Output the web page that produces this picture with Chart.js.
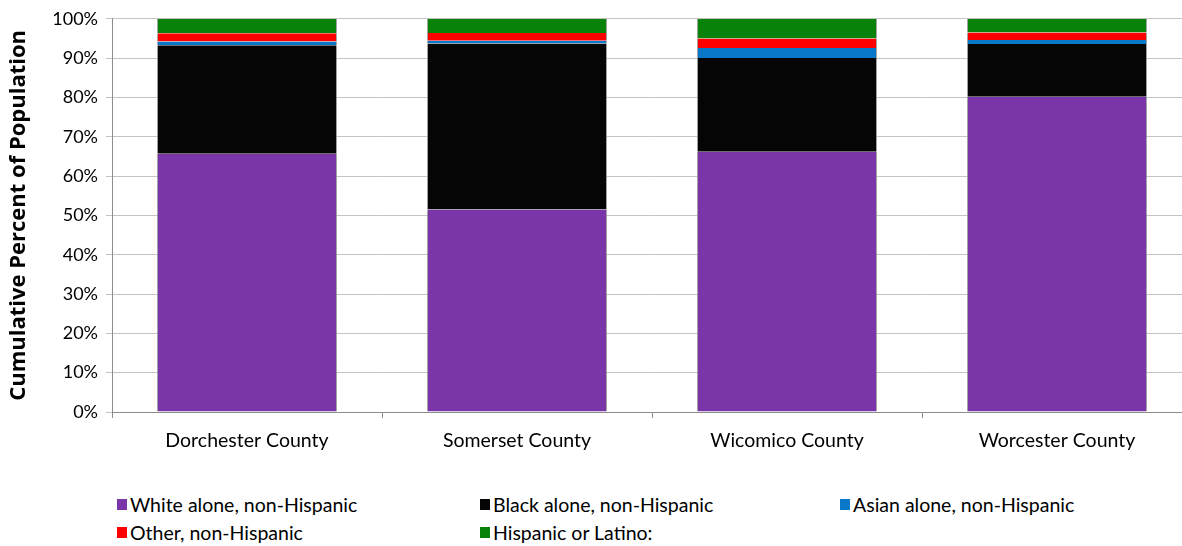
<!DOCTYPE html>
<html>
<head>
<meta charset="utf-8">
<script src="https://cdn.jsdelivr.net/npm/chart.js@4/dist/chart.umd.min.js"></script>
<style>
  body { margin: 0; background: #fff; font-family: Lato, "Open Sans", sans-serif; overflow: hidden; }
  #wrap { position: relative; width: 1194px; height: 470px; }
  #legend { position: absolute; left: 0; top: 493px; width: 1182px; font-size: 19.5px; color: #000; }
  .item { position: absolute; display: flex; align-items: center; white-space: nowrap; }
  .sw { width: 10px; height: 11px; margin-right: 3px; }
</style>
</head>
<body>
<div id="wrap"><canvas id="chart"></canvas></div>
<div id="legend"></div>
<script>
// --- data ---
const counties = ['Dorchester County', 'Somerset County', 'Wicomico County', 'Worcester County'];
const seriesNames = ['White alone, non-Hispanic', 'Black alone, non-Hispanic', 'Asian alone, non-Hispanic', 'Other, non-Hispanic', 'Hispanic or Latino:'];
const white    = [65.7, 51.5, 66.2, 80.2];
const black    = [27.6, 42.2, 23.8, 13.4];
const asian    = [0.9, 0.7, 2.6, 1.0];
const other    = [2.1, 2.0, 2.4, 1.9];
const hispanic = [3.7, 3.6, 5.0, 3.5];
const yTicks   = [0, 10, 20, 30, 40, 50, 60, 70, 80, 90, 100];

const colors = ['#7a36a9', '#050505', '#0a78c9', '#ff0000', '#088208'];
const allSeries = [white, black, asian, other, hispanic];

// legend grid (html, Excel-style columns)
const legendPos = [[117, 0], [480, 0], [840, 0], [117, 28], [480, 28]];
const legend = document.getElementById('legend');
seriesNames.forEach((n, i) => {
    legend.innerHTML += `<div class="item" style="left:${legendPos[i][0]}px;top:${legendPos[i][1]}px">
        <div class="sw" style="background:${colors[i]}"></div>${n}</div>`;
});

const ctx = document.getElementById('chart').getContext('2d');
new Chart(ctx, {
    type: 'bar',
    data: {
        labels: counties,
        datasets: allSeries.map((d, i) => ({
            label: seriesNames[i],
            data: d,
            backgroundColor: colors[i],
            borderColor: 'rgba(140,140,140,0.8)',
            borderWidth: { left: 1, right: 1, top: 0, bottom: 0 },
            borderSkipped: false,
            barPercentage: 0.667,
            categoryPercentage: 1
        }))
    },
    options: {
        responsive: true,
        maintainAspectRatio: false,
        animation: false,
        layout: { padding: { top: 14, right: 2, left: 6, bottom: 0 } },
        plugins: { legend: { display: false }, tooltip: { enabled: false } },
        scales: {
            x: {
                stacked: true,
                offset: true,
                grid: { offset: true, drawOnChartArea: false, color: '#8c8c8c', tickLength: 6 },
                border: { color: '#8c8c8c' },
                ticks: { color: '#000', font: { size: 19.5, family: 'Lato' }, padding: 11 },
                afterFit: s => { s.height = 58; }
            },
            y: {
                stacked: true,
                min: 0, max: 100,
                afterBuildTicks: s => { s.ticks = yTicks.map(v => ({ value: v })); },
                grid: { color: '#c4c4c4', tickLength: 6 },
                border: { color: '#8c8c8c' },
                ticks: { color: '#000', font: { size: 18, family: 'Lato' }, padding: 8, callback: v => v + '%' },
                title: { display: true, text: 'Cumulative Percent of Population', color: '#000',
                         font: { size: 22, weight: 'bold', family: 'Open Sans' }, padding: { top: 0, bottom: 2 } },
                afterFit: s => { s.width = 106; }
            }
        }
    }
});
</script>
</body>
</html>
